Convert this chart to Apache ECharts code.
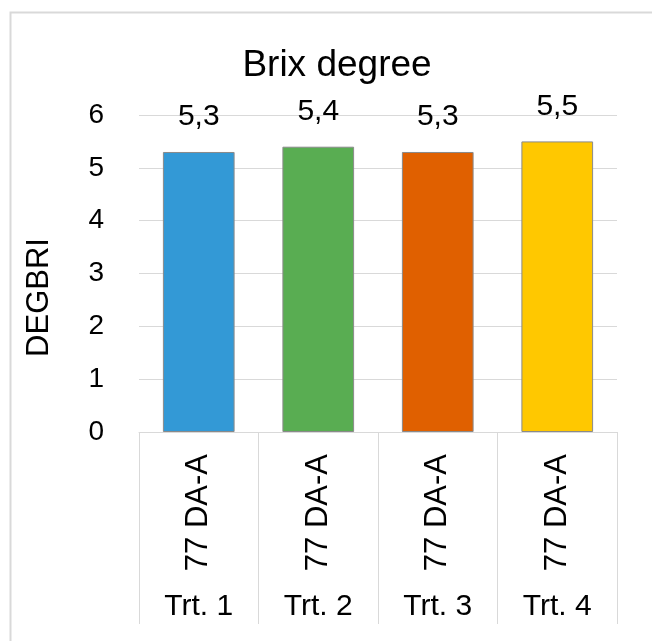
<!DOCTYPE html>
<html>
<head>
<meta charset="utf-8">
<script src="https://cdn.jsdelivr.net/npm/echarts@6/dist/echarts.min.js"></script>
<style>
  html, body { margin: 0; padding: 0; background: #fff; }
  #chart { width: 652px; height: 641px; }
</style>
</head>
<body>
<div id="chart"></div>
<script>
// data
const groups = ['Trt. 1', 'Trt. 2', 'Trt. 3', 'Trt. 4']
const subLabels = ['77 DA-A', '77 DA-A', '77 DA-A', '77 DA-A']
const brix = [5.3, 5.4, 5.3, 5.5]
const barColors = ['#3399d6', '#59ad52', '#e06000', '#ffc800']
const yTicks = [0, 1, 2, 3, 4, 5, 6]

const fontFamily = '"Liberation Sans", Arial, Helvetica, sans-serif'
const lineGray = '#d9d9d9'

const option = {
  animation: false,
  textStyle: { fontFamily: fontFamily },
  title: {
    text: 'Brix degree',
    left: 332,
    top: 42,
    textAlign: 'center',
    textStyle: { fontSize: 37, fontWeight: 'normal', color: '#000', fontFamily: fontFamily },
  },
  grid: { left: 139, right: 35, top: 115, bottom: 209, containLabel: false },
  xAxis: [
    {
      type: 'category',
      data: subLabels,
      position: 'bottom',
      axisLine: { show: true, lineStyle: { color: lineGray, width: 1 } },
      axisTick: { show: true, interval: 0, length: 192, lineStyle: { color: lineGray } },
      axisLabel: { interval: 0, rotate: 90, margin: 22, fontSize: 31, color: '#000' },
    },
    {
      type: 'category',
      data: groups,
      position: 'bottom',
      offset: 160,
      axisLine: { show: false },
      axisTick: { show: false },
      axisLabel: { interval: 0, margin: 0, fontSize: 30, color: '#000' },
    },
  ],
  yAxis: {
    type: 'value',
    min: yTicks[0],
    max: yTicks[yTicks.length - 1],
    interval: 1,
    name: 'DEGBRI',
    nameLocation: 'middle',
    nameGap: 84,
    nameRotate: 90,
    // pushes the name down along the axis, as in the picture
    nameTextStyle: { fontSize: 31, color: '#000', padding: [0, 48, 0, 0] },
    axisLine: { show: false },
    axisTick: { show: false },
    axisLabel: { margin: 35, fontSize: 28, color: '#000' },
    splitLine: { lineStyle: { color: lineGray, width: 1 } },
  },
  series: [
    {
      type: 'bar',
      xAxisIndex: 0,
      barWidth: '60%',
      data: brix.map((v, i) => ({
        value: v,
        itemStyle: { color: barColors[i], borderColor: '#8a8a8a', borderWidth: 1 },
      })),
      label: {
        show: true,
        position: 'top',
        distance: 20,
        fontSize: 30,
        color: '#000',
        formatter: (p) => String(p.value).replace('.', ','),
      },
    },
  ],
  graphic: [
    {
      type: 'rect',
      shape: { x: 10.5, y: 12.5, width: 700, height: 700 },
      style: { fill: 'none', stroke: lineGray, lineWidth: 2 },
      silent: true,
    },
  ],
}

const c = echarts.init(document.getElementById('chart'))
c.setOption(option)
</script>
</body>
</html>
